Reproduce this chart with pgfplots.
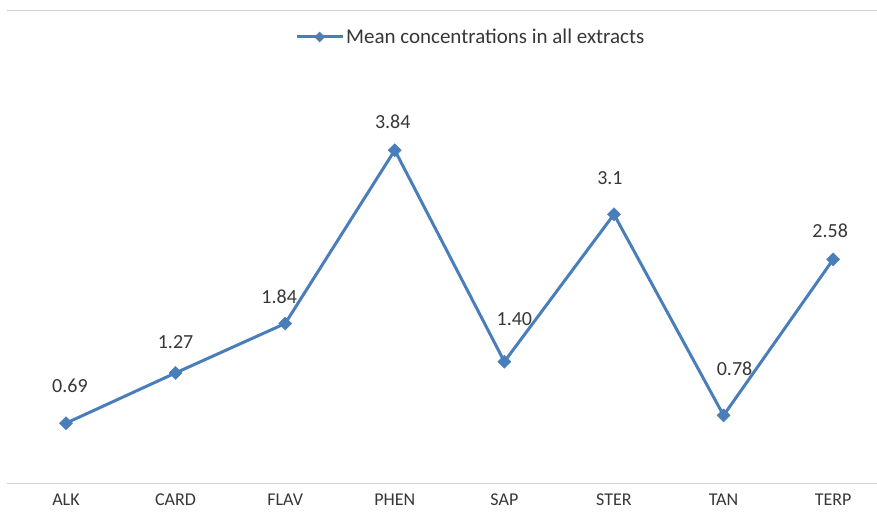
\documentclass[border=0pt]{standalone}
\usepackage{pgfplots}
\usepackage{pgfplotstable}
\usepackage{fontspec}
\setmainfont{Carlito}
\pgfplotsset{compat=1.18}
\definecolor{ln}{RGB}{74,126,187}
\definecolor{tx}{RGB}{55,55,55}
\pgfplotstableread{
x y lab xo yo
0 0.69 0.69 4 37
1 1.27 1.27 0 31
2 1.84 1.84 -6 27
3 3.84 3.84 -2 28
4 1.40 1.40 10 43
5 3.10 3.1 -4 36
6 0.78 0.78 11 47
7 2.58 2.58 -3 29
}\data
\begin{document}
\begin{tikzpicture}
\useasboundingbox (-7pt,-28pt) rectangle (870pt,483pt);
\begin{axis}[
  scale only axis, width=870pt, height=472pt,
  xmin=-0.538, xmax=7.40, ymin=0, ymax=5.446,
  axis x line=box, axis y line=none,
  axis line style={draw=gray!35, line width=1pt},
  xtick={0,...,7},
  xticklabels={ALK,CARD,FLAV,PHEN,SAP,STER,TAN,TERP},
  major tick length=0pt, ytick=\empty,
  xticklabel style={font=\fontsize{18}{18}\selectfont, text=tx, yshift=-7pt},
  clip=false,
  legend style={at={(0.533,0.945)}, anchor=center, draw=none, fill=none,
    font=\fontsize{21}{21}\selectfont, text=tx},
  legend image code/.code={\draw[mark repeat=2,mark phase=2,#1,mark size=3.5pt] plot coordinates {(0pt,0pt) (23pt,0pt) (46pt,0pt)};},
]
\addplot[color=ln, line width=3pt, mark=square*, mark size=4.6pt,
  mark options={fill=ln, draw=ln, line width=0.5pt, rotate=45},
  visualization depends on={\thisrow{xo} \as \xo},
  visualization depends on={\thisrow{yo} \as \yo},
  nodes near coords, point meta=explicit symbolic,
  every node near coord/.append style={anchor=center, xshift=\xo pt, yshift=\yo pt,
    font=\fontsize{20}{20}\selectfont, text=tx}]
  table[x=x, y=y, meta=lab] {\data};
\addlegendentry{Mean concentrations in all extracts}
\end{axis}
\end{tikzpicture}
\end{document}
